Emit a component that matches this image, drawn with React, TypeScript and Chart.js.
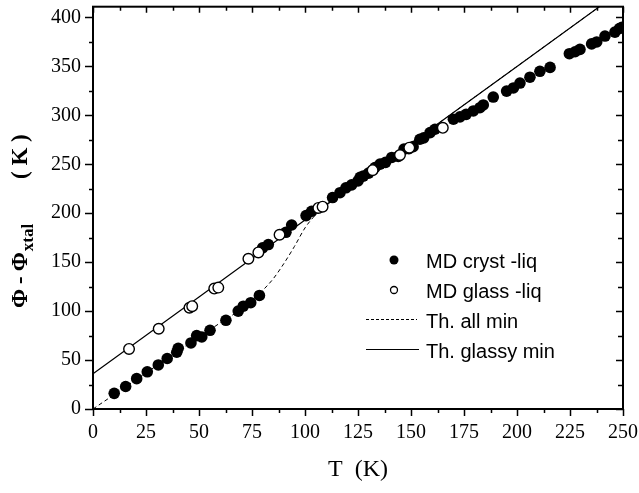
import { useEffect, useRef } from 'react';
import { Chart, registerables } from 'chart.js';
Chart.register(...registerables);

// MD crystal - liquid (filled circles)
const crystT = [10, 15.4, 20.6, 25.6, 30.8, 35, 39.5, 40.2, 46.2, 48.9, 51.3, 55.2, 62.7, 68.5, 70.9, 74.4, 78.5,
  80, 82.7, 91, 93.7, 100.5, 103.1, 113, 116.5, 119.3, 122, 125, 126, 127.5, 130, 133, 135.4, 138, 140.9, 144, 146.7,
  149, 151, 154.2, 156, 159, 161.3, 170, 173.1, 176, 179.4, 182.5, 184.1, 188.8, 195.1, 198.3, 201.4, 206.1, 210.8,
  215.6, 224.7, 227.4, 229.7, 235.2, 237.6, 241.5, 246.2, 248.3, 249.5];
const crystV = [16, 23, 31, 38, 45, 51.6, 58, 62, 67.5, 75, 73.6, 80.4, 90.6, 100, 105, 108.6, 116,
  164.7, 168, 180.5, 188, 197.6, 202, 216, 221, 226, 229, 233, 236.6, 238, 241, 246.7, 250.2, 252, 257, 258, 265.5,
  266, 268, 275.6, 277, 282.4, 285.8, 296, 298.4, 301, 304.5, 307.8, 310.6, 318.7, 324.8, 328, 333, 339, 345,
  349, 363, 365, 367.4, 373, 375, 381, 385, 388.7, 390];

// MD glass - liquid (open circles)
const glassT = [17, 31, 45.5, 46.8, 57.2, 59.1, 73.3, 78, 88, 106.3, 108.3, 131.9, 144.8, 149.2, 165];
const glassV = [61.4, 82, 103.5, 105, 123, 124, 153.5, 160, 178, 205.4, 206.7, 244, 259.5, 267, 287.3];

// Theory: glassy minima (solid)
const glassyMinT = [0, 50, 100, 150, 200, 250];
const glassyMinV = [36, 114.5, 193, 271.5, 350, 428.5];

// Theory: all minima (dashed)
const allMinT = [0, 20, 40, 60, 75, 80, 85, 90, 95, 100, 104, 108, 115, 150, 200, 250];
const allMinV = [0, 29.5, 59, 88, 110, 121, 133, 148.5, 166, 185, 196, 204, 216.5, 271.5, 350, 428.5];

const xTicks = [0, 25, 50, 75, 100, 125, 150, 175, 200, 225, 250];
const yTicks = [0, 50, 100, 150, 200, 250, 300, 350, 400];

const legendLabels = ['MD cryst -liq', 'MD glass -liq', 'Th. all min', 'Th. glassy min'];

const pts = (xs: number[], ys: number[]) => xs.map((x, i) => ({ x, y: ys[i] }));

const serif = '"Liberation Serif", "Times New Roman", serif';
const sans = '"Liberation Sans", Arial, sans-serif';

const decorPlugin = {
  id: 'decor',
  afterDraw(chart: any) {
    const ctx = chart.ctx;
    const xs = chart.scales.x;
    const ys = chart.scales.y;
    const { left, right, top, bottom } = chart.chartArea;
    ctx.save();
    ctx.strokeStyle = '#000';
    ctx.fillStyle = '#000';
    // frame
    ctx.lineWidth = 2;
    ctx.strokeRect(left, top, right - left, bottom - top);
    // x ticks (bottom outward, top inward)
    ctx.lineWidth = 1.5;
    for (let v = 0; v <= 250.001; v += 12.5) {
      const px = Math.round(xs.getPixelForValue(v)) + 0.5;
      const major = Math.abs(v % 25) < 1e-6;
      const lenOut = major ? 7 : 4;
      const lenIn = major ? 6 : 4;
      ctx.beginPath();
      ctx.moveTo(px, bottom);
      ctx.lineTo(px, bottom + lenOut);
      ctx.moveTo(px, top);
      ctx.lineTo(px, top + lenIn);
      ctx.stroke();
    }
    // y ticks (left outward, right inward)
    for (let v = 0; v <= 400.001; v += 25) {
      const py = Math.round(ys.getPixelForValue(v)) + 0.5;
      const major = Math.abs(v % 50) < 1e-6;
      const lenOut = major ? 8 : 4;
      const lenIn = major ? 7 : 5;
      ctx.beginPath();
      ctx.moveTo(left, py);
      ctx.lineTo(left - lenOut, py);
      ctx.moveTo(right, py);
      ctx.lineTo(right - lenIn, py);
      ctx.stroke();
    }

    // x title
    ctx.font = `24px ${serif}`;
    ctx.textAlign = 'center';
    ctx.textBaseline = 'alphabetic';
    ctx.fillText('T  (K)', (left + right) / 2, 476);

    // y title (rotated, with subscript)
    ctx.save();
    ctx.translate(27, 0);
    ctx.rotate(-Math.PI / 2);
    ctx.textAlign = 'left';
    ctx.font = `bold 23px ${serif}`;
    const main = '\u03A6 - \u03A6';
    let xpos = -308;
    ctx.fillText('\u03A6', xpos, 0);
    xpos += ctx.measureText('\u03A6').width + 5;
    ctx.fillText('-', xpos, 0);
    xpos += ctx.measureText('-').width + 5;
    ctx.fillText('\u03A6', xpos, 0);
    xpos += ctx.measureText('\u03A6').width + 1;
    ctx.font = `bold 17px ${serif}`;
    ctx.fillText('xtal', xpos, 6);
    ctx.font = `bold 23px ${serif}`;
    ctx.fillText('( K )', -179, 0);
    ctx.restore();
    void main;

    // legend
    const mx = 394;
    const tx = 426;
    const rows = [268, 298, 328, 358];
    ctx.font = `20px ${sans}`;
    ctx.textAlign = 'left';
    ctx.textBaseline = 'alphabetic';
    ctx.beginPath();
    ctx.arc(mx, rows[0] - 8, 4.5, 0, Math.PI * 2);
    ctx.fill();
    ctx.beginPath();
    ctx.lineWidth = 1.3;
    ctx.arc(mx, rows[1] - 8, 3.5, 0, Math.PI * 2);
    ctx.stroke();
    ctx.lineWidth = 1;
    ctx.setLineDash([3, 2]);
    ctx.beginPath();
    ctx.moveTo(366, rows[2] - 8.5);
    ctx.lineTo(417, rows[2] - 8.5);
    ctx.stroke();
    ctx.setLineDash([]);
    ctx.beginPath();
    ctx.moveTo(366, rows[3] - 8.5);
    ctx.lineTo(419, rows[3] - 8.5);
    ctx.stroke();
    legendLabels.forEach((t, i) => ctx.fillText(t, tx, rows[i]));
    ctx.restore();
  },
};

export default function App() {
  const ref = useRef<HTMLCanvasElement>(null);
  useEffect(() => {
    if (!ref.current) return;
    const chart = new Chart(ref.current, {
      type: 'scatter',
      data: {
        datasets: [
          {
            label: legendLabels[1],
            data: pts(glassT, glassV),
            pointRadius: 5.3,
            pointBorderWidth: 1.4,
            pointBackgroundColor: '#fff',
            pointBorderColor: '#000',
            showLine: false,
          },
          {
            label: legendLabels[0],
            data: pts(crystT, crystV),
            pointRadius: 5.8,
            pointBorderWidth: 0,
            pointBackgroundColor: '#000',
            pointBorderColor: '#000',
            showLine: false,
          },
          {
            label: legendLabels[3],
            data: pts(glassyMinT, glassyMinV),
            showLine: true,
            pointRadius: 0,
            borderColor: '#000',
            borderWidth: 1.2,
          },
          {
            label: legendLabels[2],
            data: pts(allMinT, allMinV),
            showLine: true,
            pointRadius: 0,
            borderColor: '#000',
            borderWidth: 1,
            borderDash: [4, 3],
            cubicInterpolationMode: 'monotone',
          },
        ],
      },
      options: {
        animation: false,
        responsive: true,
        maintainAspectRatio: false,
        layout: { padding: { left: 0, right: 16, top: 5, bottom: 0 } },
        plugins: { legend: { display: false }, tooltip: { enabled: false } },
        scales: {
          x: {
            type: 'linear',
            min: 0,
            max: 250,
            grid: { display: false, drawTicks: false },
            border: { display: false },
            afterBuildTicks: (s: any) => { s.ticks = xTicks.map((v) => ({ value: v })); },
            afterFit: (s: any) => { s.height = 84; s.paddingLeft = 0; s.paddingRight = 0; },
            ticks: {
              autoSkip: false,
              maxRotation: 0,
              padding: 12,
              color: '#000',
              font: { family: serif, size: 20 },
            },
          },
          y: {
            type: 'linear',
            min: 0,
            max: 411,
            grid: { display: false, drawTicks: false },
            border: { display: false },
            afterBuildTicks: (s: any) => { s.ticks = yTicks.map((v) => ({ value: v })); },
            afterFit: (s: any) => { s.width = 93; s.paddingTop = 0; s.paddingBottom = 0; },
            ticks: {
              autoSkip: false,
              padding: 12,
              color: '#000',
              font: { family: serif, size: 20 },
            },
          },
        },
      },
      plugins: [decorPlugin],
    });
    return () => chart.destroy();
  }, []);
  return (
    <div style={{ position: 'fixed', left: 0, top: 0, width: 639, height: 493, background: '#fff' }}>
      <canvas ref={ref} />
    </div>
  );
}
